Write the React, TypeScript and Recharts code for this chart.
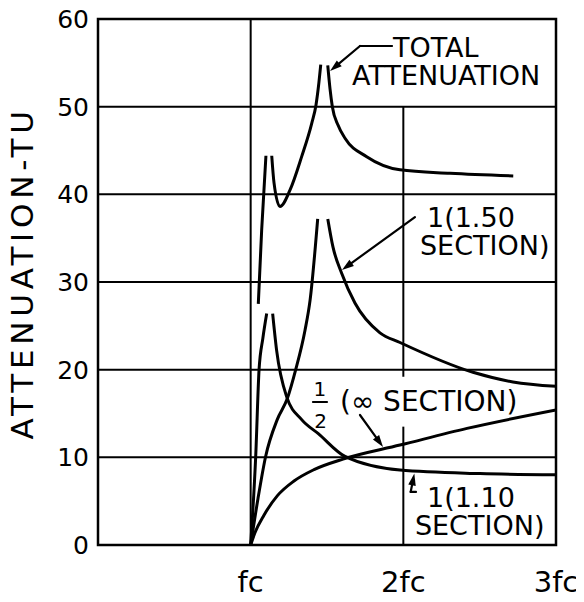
import React from 'react';
import {
  LineChart,
  Line,
  XAxis,
  YAxis,
  CartesianGrid,
  ReferenceLine,
  ReferenceDot,
  ReferenceArea,
} from 'recharts';

const FONT = '"DejaVu Sans", "Noto Sans", sans-serif';

// Axis ticks (x in multiples of the cutoff frequency fc)
const xTicks = [1, 2, 3];
const xTickLabels = ['fc', '2fc', '3fc'];
const yTicks = [0, 10, 20, 30, 40, 50, 60];

// TOTAL ATTENUATION (three branches separated by the infinite peaks)
const totalA = [
  { f: 1.05, v: 27.5 },
  { f: 1.072, v: 35.9 },
  { f: 1.1, v: 44.4 },
];
const totalB = [
  { f: 1.138, v: 44.4 },
  { f: 1.153, v: 41.3 },
  { f: 1.192, v: 38.6 },
  { f: 1.258, v: 40.5 },
  { f: 1.334, v: 44.3 },
  { f: 1.4, v: 48.1 },
  { f: 1.428, v: 50.2 },
  { f: 1.444, v: 52.3 },
  { f: 1.459, v: 54.8 },
];
const totalC = [
  { f: 1.505, v: 54.7 },
  { f: 1.52, v: 52.0 },
  { f: 1.535, v: 50.0 },
  { f: 1.572, v: 47.9 },
  { f: 1.618, v: 46.4 },
  { f: 1.76, v: 44.3 },
  { f: 1.978, v: 42.8 },
  { f: 2.306, v: 42.4 },
  { f: 2.72, v: 42.1 },
];

// 1 (1.50 SECTION)
const sec150A = [
  { f: 1.0, v: 0 },
  { f: 1.048, v: 5.3 },
  { f: 1.098, v: 10.1 },
  { f: 1.174, v: 14.3 },
  { f: 1.24, v: 16.7 },
  { f: 1.295, v: 20.0 },
  { f: 1.356, v: 24.5 },
  { f: 1.389, v: 27.9 },
  { f: 1.439, v: 37.2 },
];
const sec150B = [
  { f: 1.505, v: 37.2 },
  { f: 1.539, v: 34.0 },
  { f: 1.596, v: 31.0 },
  { f: 1.683, v: 27.6 },
  { f: 1.847, v: 24.2 },
  { f: 1.978, v: 23.1 },
  { f: 2.456, v: 19.7 },
  { f: 2.718, v: 18.6 },
  { f: 3.0, v: 18.1 },
];

// 1 (1.10 SECTION)
const sec110A = [
  { f: 1.0, v: 0 },
  { f: 1.033, v: 10.1 },
  { f: 1.055, v: 20.0 },
  { f: 1.08, v: 23.6 },
  { f: 1.105, v: 26.4 },
];
const sec110B = [
  { f: 1.144, v: 26.4 },
  { f: 1.17, v: 22.2 },
  { f: 1.236, v: 16.9 },
  { f: 1.334, v: 14.3 },
  { f: 1.443, v: 12.7 },
  { f: 1.618, v: 10.1 },
  { f: 1.978, v: 8.55 },
  { f: 2.502, v: 8.15 },
  { f: 3.0, v: 8.0 },
];

// 1/2 (INFINITY SECTION)
const secInf = [
  { f: 1.0, v: 0 },
  { f: 1.028, v: 1.4 },
  { f: 1.087, v: 3.4 },
  { f: 1.174, v: 5.6 },
  { f: 1.284, v: 7.3 },
  { f: 1.415, v: 8.6 },
  { f: 1.605, v: 9.8 },
  { f: 1.978, v: 11.4 },
  { f: 2.417, v: 13.3 },
  { f: 3.0, v: 15.4 },
];

const series = [totalA, totalB, totalC, sec150A, sec150B, sec110A, sec110B, secInf];

// Annotation texts (label, x in fc units, y in TU)
const labels = [
  { t: 'TOTAL', x: 1.932, y: 55.66, s: 27, a: 'start' },
  { t: 'ATTENUATION', x: 1.664, y: 52.47, s: 27, a: 'start' },
  { t: '1(1.50', x: 2.155, y: 36.27, s: 27, a: 'start' },
  { t: 'SECTION)', x: 2.109, y: 33.08, s: 27, a: 'start' },
  { t: '1', x: 1.454, y: 17.0, s: 20, a: 'middle' },
  { t: '2', x: 1.458, y: 13.35, s: 20, a: 'middle' },
  { t: '(∞ SECTION)', x: 1.585, y: 15.28, s: 28, a: 'start' },
  { t: '1(1.10', x: 2.155, y: 4.33, s: 27, a: 'start' },
  { t: 'SECTION)', x: 2.076, y: 1.14, s: 27, a: 'start' },
];

// Leader lines (from, to, arrow head at "to")
const leaders = [
  { x1: 1.926, y1: 56.92, x2: 1.716, y2: 56.92, head: false },
  { x1: 1.716, y1: 56.92, x2: 1.52, y2: 54.07, head: true },
  { x1: 2.076, y1: 37.41, x2: 1.598, y2: 31.37, head: true },
  { x1: 1.408, y1: 16.31, x2: 1.5, y2: 16.31, head: false },
  { x1: 1.716, y1: 14.83, x2: 1.867, y2: 11.18, head: true },
  { x1: 2.083, y1: 6.05, x2: 2.048, y2: 6.05, head: false },
  { x1: 2.048, y1: 6.05, x2: 2.072, y2: 8.16, head: true },
];

const arrowShape = (head: boolean) => (p: any) => {
  const { x1, y1, x2, y2 } = p;
  if ([x1, y1, x2, y2].some((v) => typeof v !== 'number' || isNaN(v))) return <g />;
  const ang = Math.atan2(y2 - y1, x2 - x1);
  const L = 12;
  const W = 3.8;
  const bx = x2 - L * Math.cos(ang);
  const by = y2 - L * Math.sin(ang);
  const s = Math.sin(ang);
  const c = Math.cos(ang);
  const pts = `${x2},${y2} ${bx + W * s},${by - W * c} ${bx - W * s},${by + W * c}`;
  return (
    <g>
      <line
        x1={x1}
        y1={y1}
        x2={head ? bx + 2 * c : x2}
        y2={head ? by + 2 * s : y2}
        stroke="#000"
        strokeWidth={2.2}
        strokeLinecap="round"
      />
      {head && <polygon points={pts} fill="#000" />}
    </g>
  );
};

const textShape = (t: string, size: number, anchor: string) => (p: any) => (
  <text
    x={p.cx}
    y={p.cy}
    fontSize={size}
    fontFamily={FONT}
    textAnchor={anchor as any}
    fill="#000"
  >
    {t}
  </text>
);

const XTick = (p: any) => {
  const i = xTicks.indexOf(p.payload.value);
  return (
    <text x={p.x} y={p.y + 47} textAnchor="middle" fontSize={29} fontFamily={FONT} fill="#000">
      {xTickLabels[i]}
    </text>
  );
};

const YTick = (p: any) => (
  <text x={p.x - 9} y={p.y + 9} textAnchor="end" fontSize={25} fontFamily={FONT} fill="#000">
    {p.payload.value}
  </text>
);

const YLabel = (p: any) => {
  const vb = p.viewBox || { x: 0, y: 19, width: 98, height: 526 };
  const cx = vb.x + 21.5;
  const cy = vb.y + vb.height / 2 - 9;
  return (
    <text
      x={cx}
      y={cy}
      transform={`rotate(-90 ${cx} ${cy})`}
      textAnchor="middle"
      dominantBaseline="central"
      fontSize={31}
      letterSpacing={4.8}
      fontFamily={FONT}
      fill="#000"
    >
      ATTENUATION-TU
    </text>
  );
};

export default function App() {
  return (
    <div style={{ margin: '-8px', width: 584, height: 602 }}>
      <LineChart
        width={584}
        height={602}
        margin={{ top: 19, right: 28, bottom: 0, left: 0 }}
        style={{ fontFamily: FONT }}
      >
        <CartesianGrid vertical={false} stroke="#000" strokeWidth={2} horizontalValues={yTicks} />
        <XAxis
          dataKey="f"
          type="number"
          domain={[0, 3]}
          ticks={xTicks}
          allowDataOverflow
          axisLine={false}
          tickLine={false}
          tickSize={0}
          tickMargin={0}
          height={57}
          tick={XTick}
          interval={0}
        />
        <YAxis
          type="number"
          domain={[0, 60]}
          ticks={yTicks}
          allowDataOverflow
          axisLine={false}
          tickLine={false}
          tickSize={0}
          tickMargin={0}
          width={98}
          tick={YTick}
          interval={0}
          label={YLabel}
        />
        <ReferenceLine x={1} stroke="#000" strokeWidth={2} />
        <ReferenceLine segment={[{ x: 2, y: 0 }, { x: 2, y: 13.5 }]} stroke="#000" strokeWidth={2} />
        <ReferenceLine segment={[{ x: 2, y: 19.2 }, { x: 2, y: 50 }]} stroke="#000" strokeWidth={2} />
        <ReferenceArea x1={0} x2={3} y1={0} y2={60} fill="none" fillOpacity={0} stroke="#000" strokeWidth={2.5} />
        {series.map((d, i) => (
          <Line
            key={i}
            data={d}
            dataKey="v"
            type="monotone"
            stroke="#000"
            strokeWidth={3}
            dot={false}
            activeDot={false}
            isAnimationActive={false}
            legendType="none"
          />
        ))}
        {leaders.map((l, i) => (
          <ReferenceLine
            key={'l' + i}
            segment={[{ x: l.x1, y: l.y1 }, { x: l.x2, y: l.y2 }]}
            shape={arrowShape(l.head)}
          />
        ))}
        {labels.map((l, i) => (
          <ReferenceDot key={'t' + i} x={l.x} y={l.y} r={0} shape={textShape(l.t, l.s, l.a)} />
        ))}
      </LineChart>
    </div>
  );
}
